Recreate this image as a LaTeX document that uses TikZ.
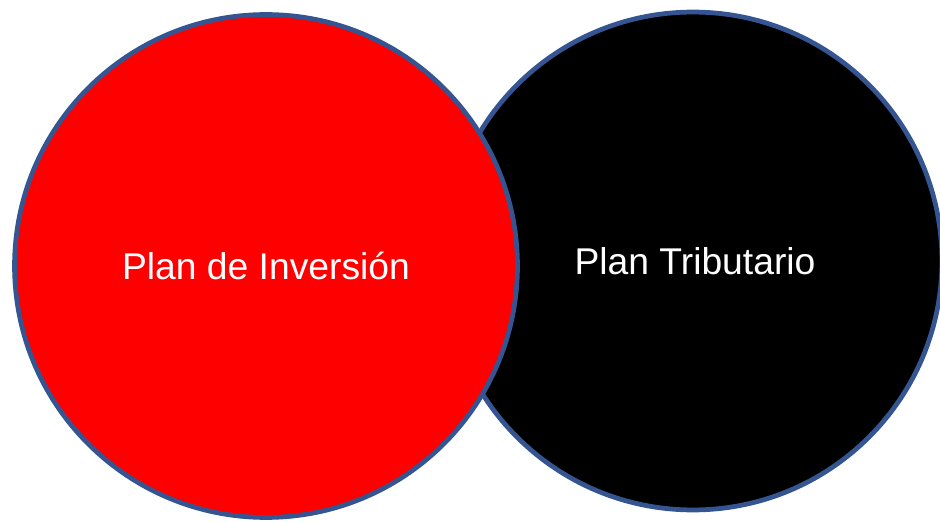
\documentclass[tikz,border=0pt]{standalone}
\usepackage{fontspec}
\setmainfont{Liberation Sans}
\usepackage{tikz}
\usepackage{xcolor}
\usetikzlibrary{positioning}

\definecolor{ringblue}{RGB}{52,85,145}
\definecolor{planred}{RGB}{255,0,0}

\begin{document}
\begin{tikzpicture}[x=0.02cm, y=0.02cm,
    plan/.style={circle, draw=ringblue, line width=2.7pt, text=white, font=\fontsize{21.2}{25}\selectfont, inner sep=0pt}]
        \useasboundingbox (0,0) rectangle (940,521);

        % black circle first, red one lies on top of it
        \node [plan, fill=black, minimum size=9.96cm] (tributario) at (693,260) {};
        \node [plan, fill=planred, minimum size=10.06cm] (inversion) at (266,255) {Plan de Inversión};

        \node [text=white, font=\fontsize{21.2}{25}\selectfont] (tribtext) at (695,260) {Plan Tributario};
\end{tikzpicture}
\end{document}
